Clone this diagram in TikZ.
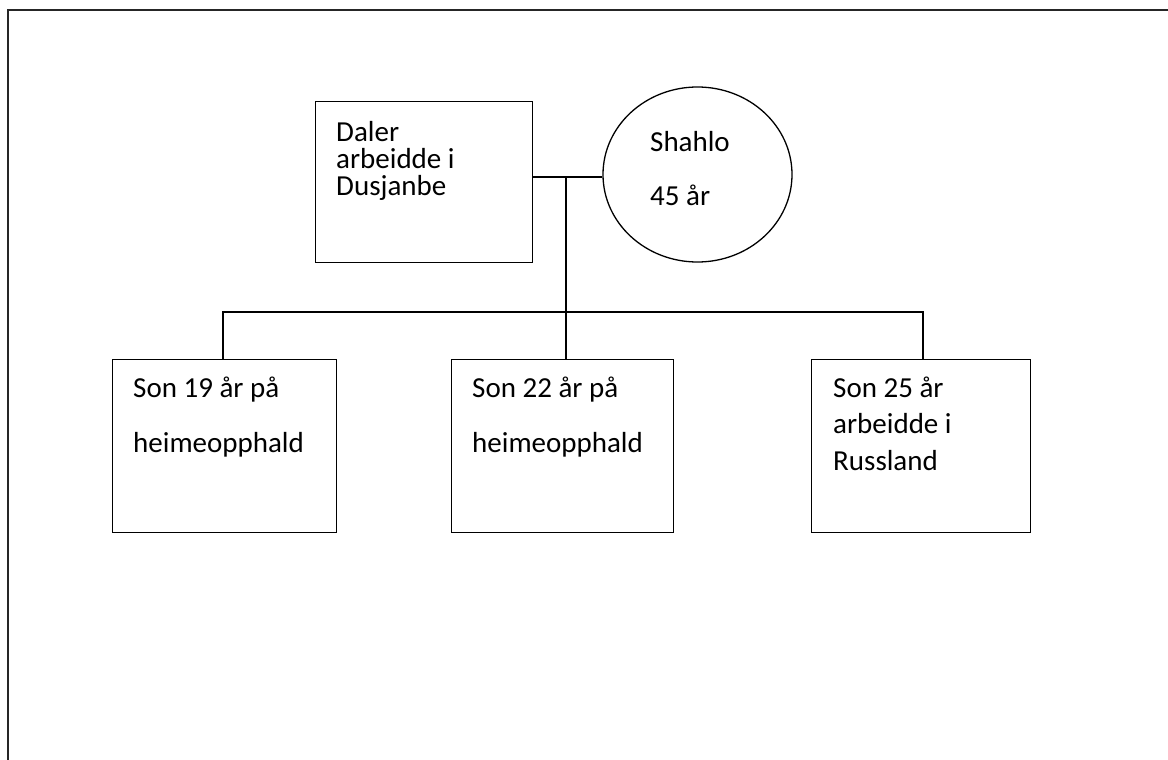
\documentclass[tikz,border=0pt]{standalone}
\usepackage{fontspec}
\setmainfont{Carlito}
\usetikzlibrary{shapes.geometric}
\begin{document}
\begin{tikzpicture}[x=1pt,y=-1pt,
  boxshape/.style={draw=black, line width=1.3pt, rectangle, inner sep=0pt, anchor=north west},
  ringshape/.style={draw=black, line width=1.3pt, ellipse, inner sep=0pt},
  txt/.style={anchor=base west, inner sep=0pt, font=\fontsize{29}{35}\selectfont},
  link/.style={draw=black, line width=1.3pt},
  frameline/.style={draw=black!85, line width=2pt}]
\useasboundingbox (0,0) rectangle (1168,760);
% outer frame (only left and top edges visible)
\coordinate (fa) at (8,762);
\coordinate (fb) at (8,10);
\coordinate (fc) at (1170,10);
\draw[frameline] (fa) -- (fb) -- (fc);
% parents
\node[boxshape, minimum width=217pt, minimum height=161pt] (daler) at (315,101) {};
\node[ringshape, minimum width=189pt, minimum height=175pt] (shahlo) at (697.5,174.5) {};
\node[txt] (dalerA) at (336,141) {Daler};
\node[txt] (dalerB) at (336,168) {arbeidde i};
\node[txt] (dalerC) at (336,195) {Dusjanbe};
\node[txt] (shahloA) at (650,151) {Shahlo};
\node[txt] (shahloB) at (650,205) {45 år};
% children
\node[boxshape, minimum width=224pt, minimum height=173pt] (son19) at (112,359) {};
\node[boxshape, minimum width=222pt, minimum height=173pt] (son22) at (451,359) {};
\node[boxshape, minimum width=219pt, minimum height=173pt] (son25) at (811,359) {};
\node[txt] (s19a) at (133,397) {Son 19 år på};
\node[txt] (s19b) at (133,452) {heimeopphald};
\node[txt] (s22a) at (472,397) {Son 22 år på};
\node[txt] (s22b) at (472,452) {heimeopphald};
\node[txt] (s25a) at (833,397) {Son 25 år};
\node[txt] (s25b) at (833,433) {arbeidde i};
\node[txt] (s25c) at (833,470) {Russland};
% connectors
\coordinate (mid) at (566,177);
\draw[link] (daler.east |- mid) -- (shahlo.west |- mid);
\draw[link] (mid) -- (son22.north -| mid);
\coordinate (l19) at (223,312);
\coordinate (l25) at (923,312);
\draw[link] (son19.north west -| l19) -- (l19) -- (l25) -- (son25.north west -| l25);
\end{tikzpicture}
\end{document}
